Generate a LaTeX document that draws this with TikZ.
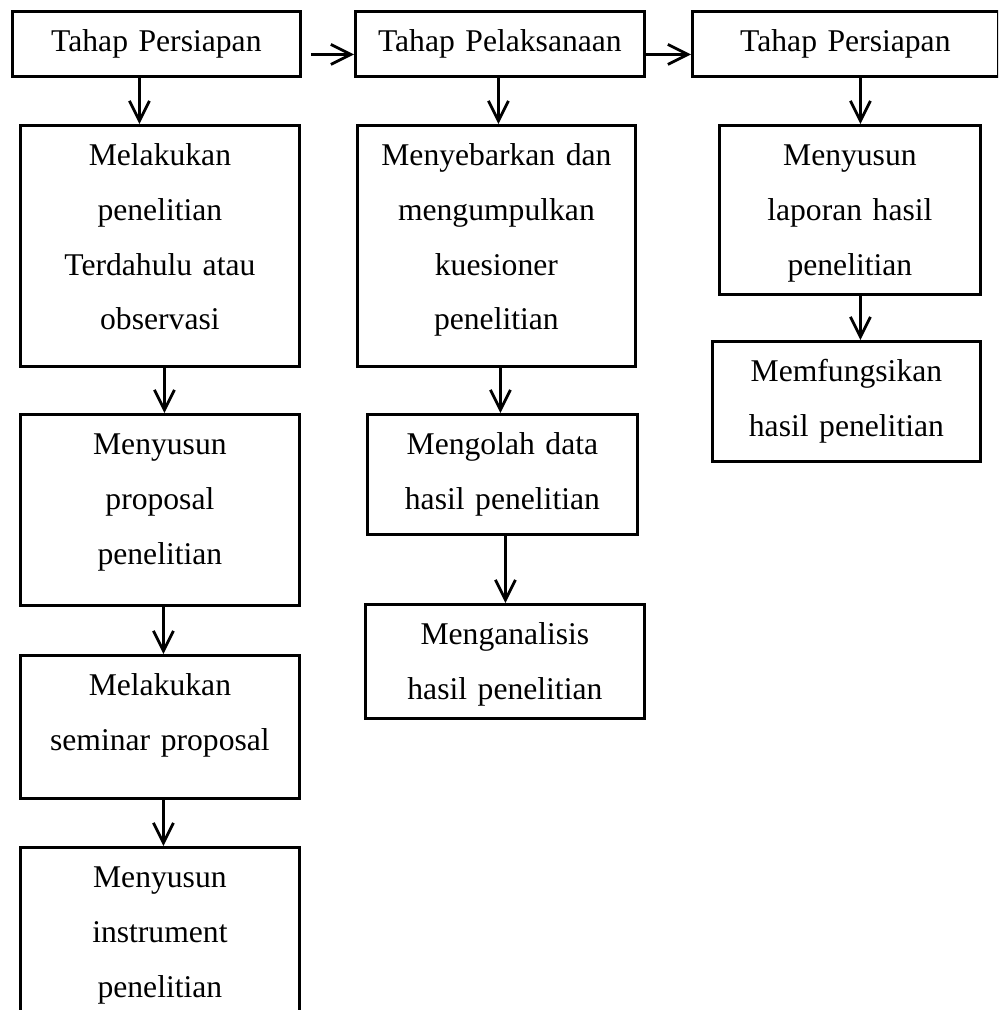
\documentclass[tikz,border=0pt]{standalone}
\usepackage{fontspec}
\setmainfont{Liberation Serif}
\usepackage{tikz}
\usetikzlibrary{arrows.meta,calc}

\begin{document}
\begin{tikzpicture}[
  box/.style={draw, line width=1.6pt, anchor=north west, inner sep=0pt,
              text height=8mm, align=center, font=\fontsize{18}{31.2}\selectfont},
  arr/.style={-{Straight Barb[length=4mm,width=4mm]}, line width=1.6pt},
]
\clip (0,0) rectangle (19.96,-20.20);

% stage headers
\node[box, text width=5.76cm, text depth=5mm] (H1) at (0.22,-0.20) {Tahap Persiapan};
\node[box, text width=5.78cm, text depth=5mm] (H2) at (7.08,-0.20) {Tahap Pelaksanaan};
\node[box, text width=6.12cm, text depth=5mm] (H3) at (13.82,-0.20) {Tahap Persiapan};

% first column
\node[box, text width=5.58cm, text depth=4.02cm] (A1) at (0.38,-2.48)
  {Melakukan\\penelitian\\Terdahulu atau\\observasi};
\node[box, text width=5.58cm, text depth=3.02cm] (A2) at (0.38,-8.26)
  {Menyusun\\proposal\\penelitian};
\node[box, text width=5.58cm, text depth=2.06cm] (A3) at (0.38,-13.08)
  {Melakukan\\seminar proposal};
\node[box, text width=5.58cm, text depth=2.88cm] (A4) at (0.38,-16.92)
  {Menyusun\\instrument\\penelitian};

% second column
\node[box, text width=5.56cm, text depth=4.02cm] (B1) at (7.12,-2.48)
  {Menyebarkan dan\\mengumpulkan\\kuesioner\\penelitian};
\node[box, text width=5.40cm, text depth=1.60cm] (B2) at (7.32,-8.26)
  {Mengolah data\\hasil penelitian};
\node[box, text width=5.58cm, text depth=1.48cm] (B3) at (7.28,-12.06)
  {Menganalisis\\hasil penelitian};

% third column
\node[box, text width=5.22cm, text depth=2.58cm] (C1) at (14.36,-2.48)
  {Menyusun\\laporan hasil\\penelitian};
\node[box, text width=5.36cm, text depth=1.60cm] (C2) at (14.22,-6.80)
  {Memfungsikan\\hasil penelitian};

% stage to stage
\draw[arr] ([shift={(0.18,-0.21)}]H1.east) -- ([yshift=-0.21cm]H2.west);
\draw[arr] ([yshift=-0.21cm]H2.east) -- ([yshift=-0.21cm]H3.west);

% steps down each column
\foreach \a/\sa/\b/\sb in {H1/-0.34/A1/-0.41, A1/0.09/A2/0.09, A2/0.07/A3/0.07,
    A3/0.07/A4/0.07, H2/-0.03/B1/0.04, B1/0.08/B2/-0.04, B2/0.06/B3/0.01,
    H3/0.30/C1/0.21, C1/0.21/C2/0.28}
  \draw[arr] ([xshift=\sa cm]\a.south) -- ([xshift=\sb cm]\b.north);
\end{tikzpicture}
\end{document}
